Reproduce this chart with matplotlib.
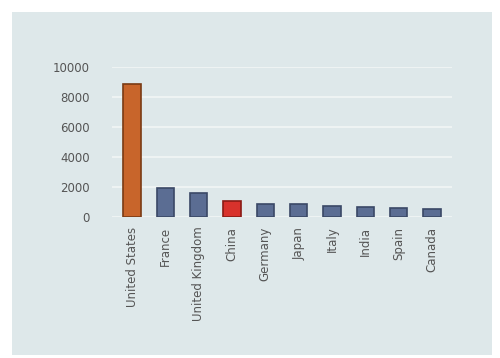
import matplotlib
matplotlib.use("Agg")
import matplotlib.pyplot as plt
from matplotlib.patches import Rectangle

countries = ["United States", "France", "United Kingdom", "China", "Germany",
             "Japan", "Italy", "India", "Spain", "Canada"]
values = [8900, 1950, 1600, 1100, 900, 850, 750, 700, 600, 550]
colors = ["#c8652b", "#5b6d93", "#5b6d93", "#d8322c", "#5b6d93",
          "#5b6d93", "#5b6d93", "#5b6d93", "#5b6d93", "#5b6d93"]
edges = ["#7a3a14", "#3a4866", "#3a4866", "#8a1a14", "#3a4866",
         "#3a4866", "#3a4866", "#3a4866", "#3a4866", "#3a4866"]
yticks = [0, 2000, 4000, 6000, 8000, 10000]

fig = plt.figure(figsize=(5.0, 3.58), dpi=100)
fig.patch.set_facecolor("white")
fig.patches.append(Rectangle((12/500, 3/358), 480/500, 343/358,
                             transform=fig.transFigure, facecolor="#dee8ea",
                             edgecolor="none", zorder=-10))

ax = fig.add_axes([112/500, 1-217/358, 340/500, 150/358])
ax.set_zorder(5)
ax.set_facecolor("none")
x = range(len(countries))
ax.bar(x, values, width=0.52, color=colors, edgecolor=edges, linewidth=1.2, zorder=3)
ax.set_xlim(-0.6, len(countries) - 0.4)
ax.set_ylim(0, 10000)
ax.set_yticks(yticks)
ax.set_yticklabels([str(v) for v in yticks], fontsize=8.5, color="#555555")
ax.set_xticks(list(x))
ax.set_xticklabels(countries, rotation=90, fontsize=8.5, color="#555555")
ax.tick_params(axis="x", length=0, pad=7)
ax.tick_params(axis="y", length=0, pad=16)
ax.yaxis.grid(True, color="#f2f6f6", linewidth=1.2, zorder=0)
ax.set_axisbelow(True)
for s in ax.spines.values():
    s.set_visible(False)

fig.savefig("out.png", dpi=100)
